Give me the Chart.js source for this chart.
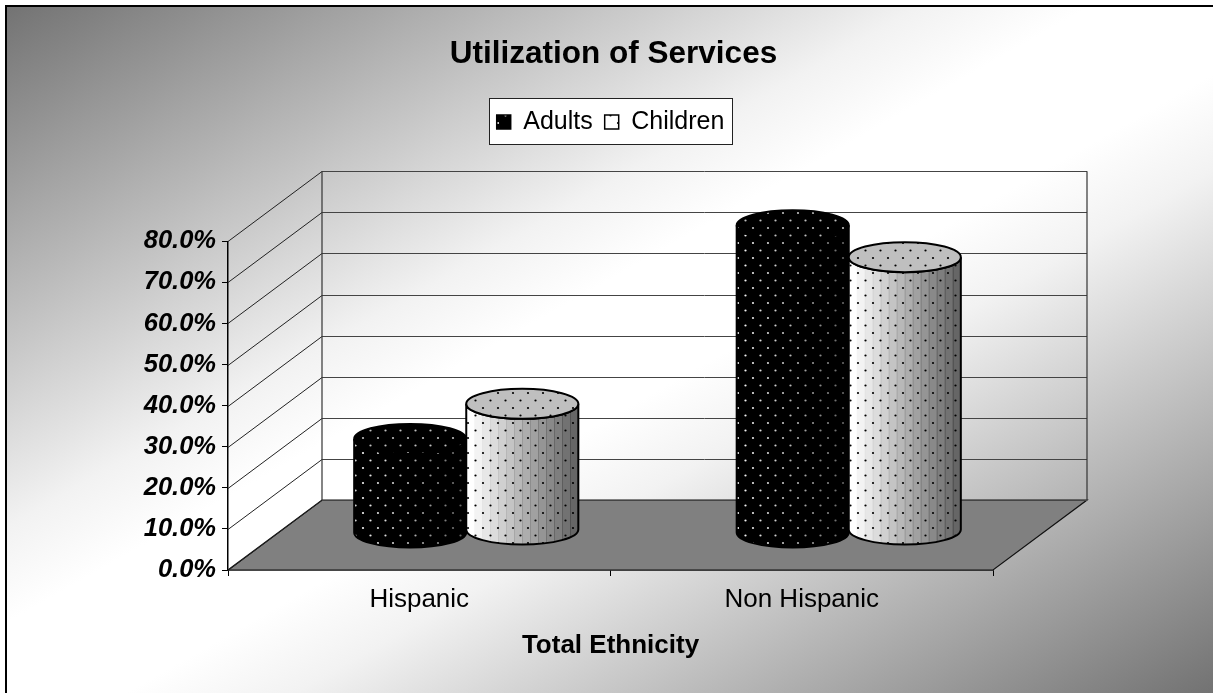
<!DOCTYPE html>
<html>
<head>
<meta charset="utf-8">
<style>
  html, body { margin: 0; background: #fff; overflow: hidden; }
  canvas { display: block; }
</style>
<script src="https://cdn.jsdelivr.net/npm/chart.js@4"></script>
</head>
<body>
<canvas id="chart" width="1213" height="693"></canvas>
<script>
var categories = ["Hispanic", "Non Hispanic"];
var adults = [22.9, 74.9];
var children = [30.7, 66.4];
var axisMax = 80;
var axisStep = 10;

// offset of the back wall from the front plane
var depthX = 94;
var depthY = -70;

const dots = (bg, dot) => {
  const c = document.createElement("canvas");
  c.width = 15;
  c.height = 15;
  const g = c.getContext("2d");
  g.fillStyle = bg;
  g.fillRect(0, 0, 15, 15);
  g.fillStyle = dot;
  [[3, 3], [10.5, 10.5]].forEach((p) => {
    g.beginPath();
    g.arc(p[0], p[1], 1.1, 0, Math.PI * 2);
    g.fill();
  });
  return g.createPattern(c, "repeat");
};

const cylinder = (ctx, bar, shiftY, fill) => {
  const rx = bar.width / 2;
  const ry = 15;
  const cx = bar.x + depthX / 2;
  const top = bar.y + shiftY;
  const bottom = bar.base + shiftY;

  ctx.save();
  ctx.beginPath();
  ctx.ellipse(cx, top, rx, ry, 0, Math.PI, 0, true);
  ctx.lineTo(cx + rx, bottom);
  ctx.ellipse(cx, bottom, rx, ry, 0, 0, Math.PI);
  ctx.closePath();
  ctx.fillStyle = fill;
  ctx.fill();

  // stepped shading, left to right
  const bands = 14;
  const step = bar.width / bands;
  ctx.clip();
  for (let i = 0; i < bands; i++) {
    ctx.fillStyle = "rgba(0,0,0," + (0.6 * i) / (bands - 1) + ")";
    ctx.fillRect(cx - rx + i * step, top - ry, step + 0.5, bottom - top + 2 * ry);
  }
  ctx.restore();

  ctx.save();
  ctx.strokeStyle = "#000";
  ctx.lineWidth = 2;
  ctx.beginPath();
  ctx.ellipse(cx, top, rx, ry, 0, Math.PI, 0, true);
  ctx.lineTo(cx + rx, bottom);
  ctx.ellipse(cx, bottom, rx, ry, 0, 0, Math.PI);
  ctx.closePath();
  ctx.stroke();

  // lid
  ctx.beginPath();
  ctx.ellipse(cx, top, rx, ry, 0, 0, Math.PI * 2);
  ctx.fillStyle = fill;
  ctx.fill();
  ctx.fillStyle = "rgba(0,0,0,0.25)";
  ctx.fill();
  ctx.stroke();
  ctx.restore();
};

const frame3d = {
  id: "frame3d",
  afterLayout(chart) {
    // title and legend sit well above the plot
    const t = chart.titleBlock;
    const h = t.bottom - t.top;
    t.top = 54 - h / 2;
    t.bottom = t.top + h;
    t.left += 3;
    t.right += 3;
    const l = chart.legend;
    const lh = l.bottom - l.top;
    l.top = 121 - lh / 2;
    l.bottom = l.top + lh;
  },
  beforeDraw(chart) {
    const ctx = chart.ctx;
    const w = chart.width;
    const h = chart.height;
    const g = ctx.createLinearGradient(313, -171, 905, 869);
    g.addColorStop(0, "#727272");
    g.addColorStop(0.38, "#f2f2f2");
    g.addColorStop(0.45, "#ffffff");
    g.addColorStop(0.55, "#ffffff");
    g.addColorStop(0.62, "#f2f2f2");
    g.addColorStop(1, "#727272");
    ctx.fillStyle = "#fff";
    ctx.fillRect(0, 0, w, h);
    ctx.fillStyle = g;
    ctx.fillRect(6, 6, w - 6, h - 6);
    ctx.fillStyle = "#000";
    ctx.fillRect(5, 5, w - 5, 2);
    ctx.fillRect(5, 5, 2, h - 5);

    // legend frame around the items only
    const l = chart.legend;
    const boxes = l.legendHitBoxes;
    const x0 = Math.round(boxes[0].left) - 8;
    const x1 = Math.round(boxes[boxes.length - 1].left + boxes[boxes.length - 1].width) + 8;
    ctx.fillStyle = "#fff";
    ctx.fillRect(x0, 98, x1 - x0, 46);
    ctx.strokeStyle = "#222";
    ctx.lineWidth = 1;
    ctx.strokeRect(x0 + 0.5, 98.5, x1 - x0, 46);
  },
  beforeDatasetsDraw(chart) {
    const ctx = chart.ctx;
    const a = chart.chartArea;
    const y = chart.scales.y;

    ctx.save();
    // floor
    ctx.beginPath();
    ctx.moveTo(a.left, a.bottom);
    ctx.lineTo(a.right, a.bottom);
    ctx.lineTo(a.right + depthX, a.bottom + depthY);
    ctx.lineTo(a.left + depthX, a.bottom + depthY);
    ctx.closePath();
    ctx.fillStyle = "#808080";
    ctx.fill();
    ctx.strokeStyle = "#111";
    ctx.lineWidth = 1.2;
    ctx.stroke();

    // side and back wall gridlines
    y.ticks.forEach((t) => {
      const py = Math.round(y.getPixelForValue(t.value)) + 0.5;
      ctx.beginPath();
      ctx.moveTo(a.left, py);
      ctx.lineTo(a.left + depthX, py + depthY);
      ctx.strokeStyle = "#222";
      ctx.lineWidth = 1;
      ctx.stroke();
      ctx.beginPath();
      ctx.moveTo(a.left + depthX, py + depthY);
      ctx.lineTo(a.right + depthX, py + depthY);
      ctx.strokeStyle = "#444";
      ctx.stroke();
    });

    ctx.strokeStyle = "#333";
    ctx.lineWidth = 1.2;
    [a.left + depthX, a.right + depthX].forEach((x) => {
      ctx.beginPath();
      ctx.moveTo(x, a.top + depthY);
      ctx.lineTo(x, a.bottom + depthY);
      ctx.stroke();
    });
    ctx.restore();
  },
  // the plain rectangles are replaced by cylinders below
  beforeDatasetDraw() {
    return false;
  },
  afterDatasetsDraw(chart) {
    chart.data.datasets.forEach((ds, i) => {
      chart.getDatasetMeta(i).data.forEach((bar) => {
        cylinder(chart.ctx, bar, i === 0 ? -37 : -40, ds.backgroundColor);
      });
    });
  },
};

new Chart(document.getElementById("chart"), {
  type: "bar",
  plugins: [frame3d],
  data: {
    labels: categories,
    datasets: [
      {
        label: "Adults",
        data: adults,
        backgroundColor: dots("#000", "#fff"),
        borderColor: "#000",
        borderWidth: 1.5,
      },
      {
        label: "Children",
        data: children,
        backgroundColor: dots("#fff", "#000"),
        borderColor: "#000",
        borderWidth: 1.5,
      },
    ],
  },
  options: {
    responsive: false,
    animation: false,
    events: [],
    layout: { padding: { top: 156.5, right: 220, bottom: 23, left: 0 } },
    datasets: { bar: { categoryPercentage: 0.586, barPercentage: 1 } },
    plugins: {
      title: {
        display: true,
        text: "Utilization of Services",
        color: "#000",
        fullSize: false,
        font: { family: "'Liberation Sans'", size: 31.5, weight: "bold" },
        padding: 0,
      },
      legend: {
        position: "top",
        fullSize: false,
        labels: {
          color: "#000",
          font: { family: "'Liberation Sans'", size: 25 },
          boxWidth: 14,
          boxHeight: 14,
          padding: 12,
        },
      },
      tooltip: { enabled: false },
    },
    scales: {
      x: {
        offset: true,
        afterFit: (s) => { s.height = 100; },
        border: { color: "#000", width: 1.5 },
        grid: { offset: true, drawOnChartArea: false, color: "#000", tickLength: 6 },
        ticks: {
          color: "#000",
          font: { family: "'Liberation Sans'", size: 26 },
          maxRotation: 0,
          padding: 8,
        },
        title: {
          display: true,
          text: "Total Ethnicity",
          color: "#000",
          font: { family: "'Liberation Sans'", size: 26, weight: "bold" },
          padding: { top: 10, bottom: 9 },
        },
      },
      y: {
        min: 0,
        max: axisMax,
        afterFit: (s) => { s.width = 228; },
        border: { color: "#000", width: 1.5 },
        grid: { drawOnChartArea: false, color: "#000", tickLength: 6 },
        ticks: {
          stepSize: axisStep,
          color: "#000",
          padding: 6,
          font: { family: "'Liberation Sans'", size: 25.5, weight: "bold", style: "italic" },
          callback: (v) => v.toFixed(1) + "%",
        },
      },
    },
  },
});
</script>
</body>
</html>
